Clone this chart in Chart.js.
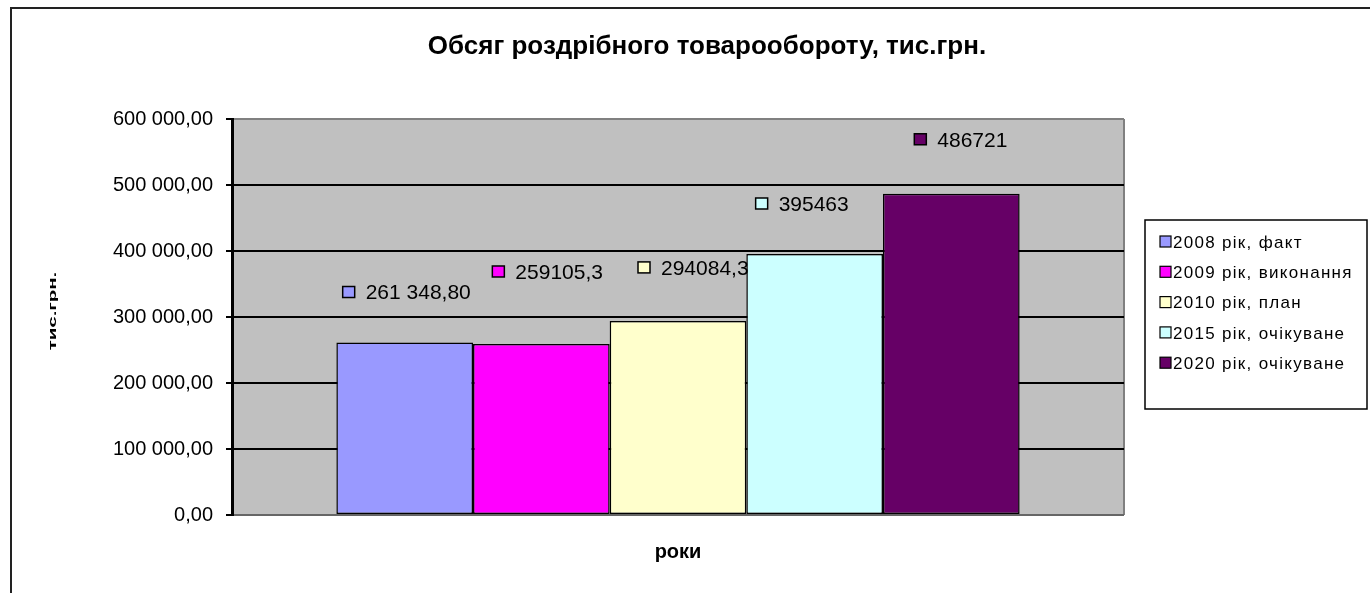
<!DOCTYPE html>
<html>
<head>
<meta charset="utf-8">
<script src="https://cdn.jsdelivr.net/npm/chart.js@4.4.1/dist/chart.umd.min.js"></script>
<style>
html, body { margin: 0; padding: 0; background: #fff; overflow: hidden; }
#wrap { position: relative; width: 1370px; height: 593px; }
canvas { position: absolute; left: 0; top: 0; }
</style>
</head>
<body>
<div id="wrap">
  <canvas id="chart" width="1370" height="593"></canvas>
</div>
<script>
const chartTitle = 'Обсяг роздрібного товарообороту, тис.грн.';
const xTitle = 'роки';
const yTitle = 'тис.грн.';
const categories = [''];
const seriesNames = ['2008 рік, факт', '2009 рік, виконання', '2010 рік, план', '2015 рік, очікуване', '2020 рік, очікуване'];
const seriesValues = [261348.8, 259105.3, 294084.3, 395463, 486721];
const valueLabels = ['261 348,80', '259105,3', '294084,3', '395463', '486721'];
const seriesColors = ['#9999FF', '#FF00FF', '#FFFFCC', '#CCFFFF', '#660066'];
const yTickLabels = ['0,00', '100 000,00', '200 000,00', '300 000,00', '400 000,00', '500 000,00', '600 000,00'];

// where each data label sits, relative to the top centre of its bar (excel labels were dragged by hand)
const labelShift = [[-62, -50], [-49, -72], [-40, -53], [-59, -50], [-37, -54]];

const FONT = "'Liberation Sans', Arial, sans-serif";
Chart.defaults.font.family = FONT;
Chart.defaults.color = '#000';

const datasets = seriesNames.map((name, i) => ({
    label: name,
    data: [seriesValues[i]],
    backgroundColor: seriesColors[i],
    borderColor: '#000',
    borderWidth: 1.5,
    borderSkipped: false,
    barPercentage: 1,
    categoryPercentage: 0.766
}));

const excelLook = {
    id: 'excelLook',
    beforeDraw(chart) {
        const c = chart.ctx;
        const a = chart.chartArea;
        c.save();
        // outer frame of the chart object
        c.strokeStyle = '#222';
        c.lineWidth = 2;
        c.beginPath();
        c.moveTo(11, 593);
        c.lineTo(11, 8);
        c.lineTo(1370, 8);
        c.stroke();
        // plot area
        c.fillStyle = '#C0C0C0';
        c.fillRect(a.left, a.top, a.right - a.left, a.bottom - a.top);
        c.strokeStyle = '#808080';
        c.lineWidth = 2;
        c.beginPath();
        c.moveTo(a.right, a.top);
        c.lineTo(a.right, a.bottom);
        c.stroke();
        c.restore();
    },
    afterDatasetsDraw(chart) {
        const c = chart.ctx;
        c.save();
        c.font = '21px ' + FONT;
        c.textBaseline = 'middle';
        c.textAlign = 'left';
        chart.data.datasets.forEach((ds, i) => {
            const bar = chart.getDatasetMeta(i).data[0];
            const x = bar.x + labelShift[i][0];
            const y = bar.y + labelShift[i][1];
            c.fillStyle = ds.backgroundColor;
            c.fillRect(x, y - 6, 12, 11);
            c.strokeStyle = '#000';
            c.lineWidth = 1.5;
            c.strokeRect(x, y - 6, 12, 11);
            c.fillStyle = '#000';
            c.fillText(valueLabels[i], x + 23, y + 1);
        });
        c.restore();
    },
    afterDraw(chart) {
        const c = chart.ctx;
        const a = chart.chartArea;
        c.save();
        // title
        c.fillStyle = '#000';
        c.font = 'bold 26px ' + FONT;
        c.textAlign = 'center';
        c.textBaseline = 'middle';
        c.fillText(chartTitle, 707, 47);
        // x title
        c.font = 'bold 20px ' + FONT;
        c.fillText(xTitle, (a.left + a.right) / 2, 552);
        // y title, squashed like the original
        c.translate(53, 311);
        c.rotate(-Math.PI / 2);
        c.scale(1.2, 0.6);
        c.font = 'bold 17px ' + FONT;
        c.fillText(yTitle, 0, 0);
        c.restore();

        // legend
        c.save();
        const lx = 1145, ly = 220, lw = 222, lh = 189;
        c.fillStyle = '#fff';
        c.fillRect(lx, ly, lw, lh);
        c.strokeStyle = '#000';
        c.lineWidth = 1.5;
        c.strokeRect(lx, ly, lw, lh);
        c.font = '17px ' + FONT;
        c.letterSpacing = '1.3px';
        c.textBaseline = 'middle';
        c.textAlign = 'left';
        chart.data.datasets.forEach((ds, i) => {
            const y = 242 + i * 30.3;
            c.fillStyle = ds.backgroundColor;
            c.fillRect(1160, y - 6, 11, 11);
            c.strokeStyle = '#000';
            c.lineWidth = 1.2;
            c.strokeRect(1160, y - 6, 11, 11);
            c.fillStyle = '#000';
            c.fillText(ds.label, 1173, y + 1);
        });
        c.restore();
    }
};

new Chart(document.getElementById('chart'), {
    type: 'bar',
    data: { labels: categories, datasets: datasets },
    options: {
        responsive: false,
        animation: false,
        devicePixelRatio: 1,
        layout: { padding: { top: 119, right: 246, bottom: 78, left: 0 } },
        plugins: {
            legend: { display: false },
            title: { display: false },
            tooltip: { enabled: false }
        },
        scales: {
            x: { display: false },
            y: {
                min: 0,
                max: 600000,
                afterFit: (scale) => { scale.width = 232; },
                ticks: {
                    stepSize: 100000,
                    padding: 13,
                    font: { size: 20 },
                    color: '#000',
                    callback: (v, i) => yTickLabels[i]
                },
                grid: {
                    lineWidth: 2,
                    tickLength: 6,
                    tickColor: '#000',
                    color: (ctx) => {
                        if (!ctx.tick) return '#000';
                        if (ctx.tick.value === 600000) return '#808080';
                        if (ctx.tick.value === 0) return '#666';
                        return '#000';
                    }
                },
                border: { display: true, color: '#000', width: 3 }
            }
        }
    },
    plugins: [excelLook]
});
</script>
</body>
</html>
